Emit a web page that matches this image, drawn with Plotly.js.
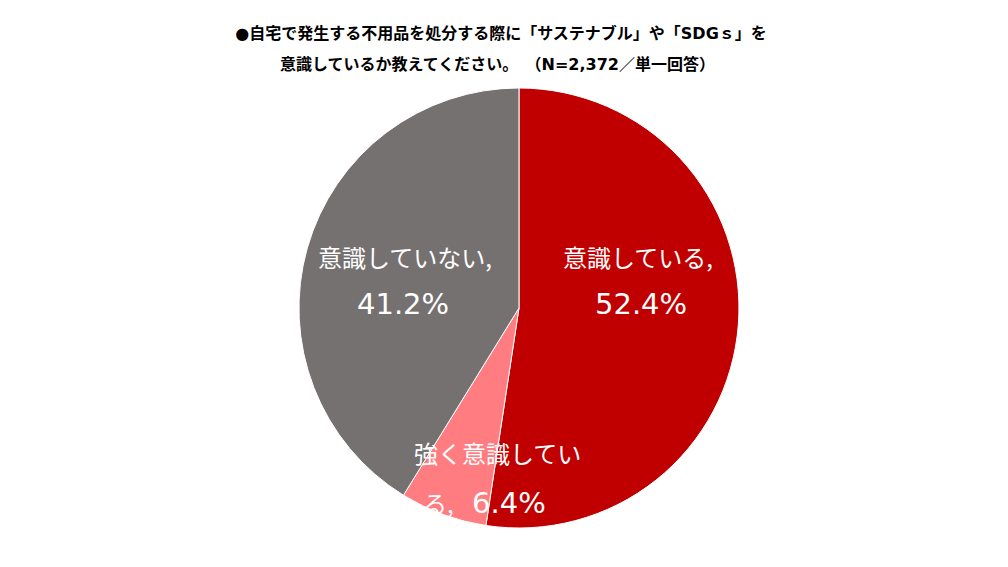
<!DOCTYPE html>
<html>
<head>
<meta charset="utf-8">
<script src="https://cdn.plot.ly/plotly-3.0.1.min.js"></script>
<style>html,body{margin:0;padding:0;background:#fff;}#chart{width:1008px;height:567px;}</style>
</head>
<body>
<div id="chart"></div>
<script>
const categories = ["意識している", "強く意識している", "意識していない"];
const values = [52.4, 6.4, 41.2];
const valueLabels = ["52.4%", "6.4%", "41.2%"];
const labelLine1 = ["意識している,", "強く意識してい", "意識していない,"];
const labelPrefix2 = ["", "る,", ""];
const colors = ["#C00000", "#FF7C80", "#767171"];
const titleLine1 = "●自宅で発生する不用品を処分する際に「サステナブル」や「SDGｓ」を";
const titleLine2a = "意識しているか教えてください";
const titleLine2b = "。&nbsp;&nbsp;（";
const titleLine2c = "N=2,372／単一回答";
const titleLine2d = "）";

const W = 1008, H = 567;
const labelFont = "DejaVu Sans, Noto Sans CJK JP, sans-serif";
const cjkFont = "Noto Sans CJK JP, sans-serif";
const cjkSpan = (t) => '<span style="font-family:Noto Sans CJK JP">' + t + '</span>';

const trace = {
  type: "pie",
  labels: categories,
  values: values,
  textinfo: "none",
  sort: false,
  direction: "clockwise",
  rotation: 0,
  marker: {colors: colors, line: {color: "#ffffff", width: 1}},
  domain: {x: [0.2966, 0.7331], y: [0.0688, 0.8448]},
  hoverinfo: "none",
  showlegend: false
};

// label placement (pixel centres of each line) inside the slices
const labelPos = [
  {x: [638, 641], y: [256, 304]},
  {x: [497, 484], y: [452, 502]},
  {x: [405, 403], y: [256, 304]}
];

const annotations = [];
for (let i = 0; i < categories.length; i++) {
  annotations.push({
    xref: "paper", yref: "paper",
    x: labelPos[i].x[0] / W, y: 1 - labelPos[i].y[0] / H,
    xanchor: "center", yanchor: "middle",
    text: labelLine1[i], showarrow: false,
    font: {family: cjkFont, size: 24, color: "#ffffff"}
  });
  const pre = labelPrefix2[i] ? '<span style="font-family:Noto Sans CJK JP;font-size:24px">' + labelPrefix2[i] + '</span>&nbsp;&nbsp;' : "";
  annotations.push({
    xref: "paper", yref: "paper",
    x: labelPos[i].x[1] / W, y: 1 - labelPos[i].y[1] / H,
    xanchor: "center", yanchor: "middle",
    text: pre + valueLabels[i], showarrow: false,
    font: {family: labelFont, size: 29, color: "#ffffff"}
  });
}
annotations.push({
  xref: "paper", yref: "paper",
  x: 497 / W, y: 1 - 63 / H, xanchor: "center", yanchor: "middle",
  text: "<b>" + titleLine2a + cjkSpan(titleLine2b) + titleLine2c + cjkSpan(titleLine2d) + "</b>", showarrow: false,
  font: {family: labelFont, size: 16, color: "#000000"}
});

const layout = {
  width: W, height: H,
  margin: {l: 0, r: 0, t: 0, b: 0},
  paper_bgcolor: "#ffffff",
  showlegend: false,
  title: {
    text: "<b>" + titleLine1 + "</b>",
    font: {family: labelFont, size: 16, color: "#000000"},
    x: 501 / W, xanchor: "center", y: 1 - 33 / H, yanchor: "middle"
  },
  annotations: annotations
};

Plotly.newPlot("chart", [trace], layout, {displayModeBar: false, staticPlot: true});
</script>
</body>
</html>
